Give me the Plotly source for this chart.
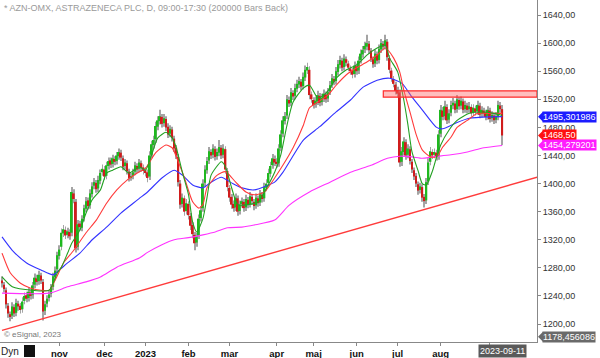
import plotly.graph_objects as go

# ---------------- data ----------------
title_text = "* AZN-OMX, ASTRAZENECA PLC, D, 09:00-17:30 (200000 Bars Back)"

opens = [
    1262, 1256, 1248, 1226, 1214, 1212, 1224, 1216, 1229, 1226,
    1221, 1233, 1241, 1237, 1245, 1241, 1256, 1265, 1261, 1269,
    1260, 1219, 1229, 1237, 1243, 1253, 1267, 1278, 1297, 1310,
    1329, 1334, 1327, 1331, 1330, 1386, 1374, 1310, 1343, 1337,
    1351, 1364, 1376, 1369, 1385, 1397, 1401, 1393, 1404, 1416,
    1420, 1411, 1425, 1433, 1428, 1435, 1432, 1439, 1444, 1436,
    1425, 1429, 1417, 1409, 1411, 1417, 1425, 1421, 1429, 1423,
    1419, 1416, 1410, 1441, 1455, 1463, 1481, 1489, 1495, 1486,
    1492, 1481, 1471, 1477, 1464, 1451, 1438, 1400, 1371, 1379,
    1361, 1371, 1354, 1341, 1327, 1316, 1326, 1351, 1365, 1401,
    1419, 1433, 1445, 1441, 1449, 1439, 1444, 1451, 1441, 1449,
    1418, 1394, 1381, 1371, 1366, 1379, 1361, 1371, 1374, 1366,
    1377, 1371, 1381, 1374, 1369, 1379, 1373, 1384, 1379, 1394,
    1401, 1414, 1426, 1435, 1431, 1429, 1451, 1471, 1489, 1497,
    1519, 1515, 1529, 1525, 1535, 1541, 1545, 1539, 1551, 1561,
    1562, 1527, 1519, 1513, 1517, 1525, 1516, 1521, 1527, 1521,
    1531, 1541, 1549, 1546, 1559, 1569, 1575, 1566, 1577, 1571,
    1564, 1561, 1556, 1567, 1561, 1576, 1584, 1591, 1595, 1599,
    1589, 1577, 1571, 1584, 1576, 1591, 1599, 1596, 1602, 1579,
    1561, 1549, 1541, 1533, 1530, 1431, 1445, 1459, 1441, 1449,
    1431, 1419, 1411, 1399, 1391, 1395, 1381, 1376, 1403, 1431,
    1445, 1441, 1444, 1439, 1471, 1504, 1496, 1509, 1491, 1501,
    1511, 1514, 1506, 1519, 1511, 1517, 1506, 1511, 1506, 1509,
    1501, 1507, 1503, 1511, 1499, 1504, 1501, 1496, 1504, 1493,
    1497, 1491, 1495, 1511, 1506,
]
highs = [
    1268, 1260, 1252, 1230, 1218, 1231, 1228, 1236, 1233, 1230,
    1238, 1245, 1246, 1252, 1249, 1260, 1272, 1270, 1276, 1273,
    1264, 1233, 1241, 1247, 1257, 1273, 1282, 1303, 1312, 1336,
    1341, 1339, 1337, 1335, 1395, 1392, 1378, 1348, 1347, 1355,
    1370, 1381, 1380, 1392, 1402, 1408, 1405, 1411, 1420, 1427,
    1425, 1431, 1437, 1437, 1441, 1439, 1445, 1450, 1448, 1440,
    1435, 1433, 1421, 1415, 1421, 1431, 1429, 1435, 1433, 1427,
    1423, 1420, 1446, 1461, 1468, 1488, 1496, 1505, 1499, 1499,
    1496, 1486, 1483, 1481, 1468, 1455, 1442, 1405, 1386, 1383,
    1378, 1375, 1358, 1345, 1331, 1330, 1356, 1368, 1406, 1426,
    1438, 1452, 1449, 1456, 1453, 1450, 1462, 1455, 1456, 1453,
    1422, 1398, 1385, 1376, 1386, 1383, 1376, 1380, 1378, 1384,
    1381, 1388, 1385, 1378, 1386, 1383, 1391, 1388, 1401, 1406,
    1421, 1431, 1442, 1440, 1436, 1456, 1476, 1496, 1502, 1526,
    1524, 1536, 1533, 1542, 1548, 1552, 1549, 1558, 1568, 1572,
    1567, 1531, 1523, 1524, 1532, 1529, 1528, 1534, 1531, 1536,
    1546, 1556, 1553, 1566, 1576, 1582, 1579, 1584, 1581, 1575,
    1568, 1565, 1574, 1571, 1581, 1591, 1596, 1602, 1612, 1603,
    1593, 1581, 1591, 1588, 1598, 1606, 1603, 1612, 1606, 1583,
    1565, 1553, 1545, 1538, 1534, 1452, 1466, 1463, 1456, 1453,
    1435, 1423, 1415, 1403, 1401, 1399, 1385, 1408, 1436, 1452,
    1449, 1450, 1448, 1476, 1512, 1509, 1518, 1513, 1506, 1518,
    1522, 1518, 1526, 1523, 1524, 1521, 1518, 1515, 1516, 1513,
    1513, 1511, 1518, 1515, 1510, 1508, 1505, 1510, 1508, 1503,
    1501, 1502, 1518, 1516, 1512,
]
lows = [
    1252, 1245, 1222, 1209, 1204, 1207, 1210, 1211, 1219, 1215,
    1216, 1228, 1231, 1232, 1235, 1236, 1251, 1255, 1256, 1257,
    1205, 1213, 1224, 1232, 1238, 1248, 1262, 1273, 1292, 1305,
    1324, 1321, 1322, 1320, 1325, 1372, 1302, 1305, 1333, 1332,
    1346, 1359, 1363, 1364, 1380, 1392, 1387, 1388, 1399, 1411,
    1405, 1406, 1420, 1422, 1423, 1426, 1427, 1434, 1432, 1419,
    1420, 1413, 1403, 1404, 1406, 1412, 1415, 1416, 1417, 1413,
    1410, 1402, 1405, 1436, 1450, 1458, 1476, 1484, 1480, 1481,
    1475, 1465, 1466, 1460, 1445, 1435, 1396, 1364, 1366, 1354,
    1356, 1349, 1334, 1322, 1305, 1310, 1321, 1346, 1360, 1396,
    1414, 1428, 1435, 1436, 1433, 1434, 1439, 1435, 1436, 1414,
    1389, 1374, 1364, 1360, 1361, 1354, 1356, 1366, 1360, 1361,
    1365, 1366, 1370, 1362, 1364, 1367, 1368, 1373, 1374, 1389,
    1396, 1409, 1421, 1425, 1423, 1424, 1446, 1466, 1484, 1492,
    1509, 1510, 1519, 1520, 1530, 1536, 1533, 1534, 1546, 1556,
    1520, 1515, 1507, 1508, 1512, 1510, 1511, 1516, 1515, 1516,
    1526, 1536, 1540, 1541, 1554, 1564, 1560, 1561, 1567, 1560,
    1555, 1550, 1551, 1555, 1556, 1571, 1579, 1586, 1590, 1585,
    1573, 1565, 1566, 1570, 1571, 1586, 1590, 1591, 1575, 1557,
    1545, 1537, 1527, 1523, 1424, 1425, 1440, 1434, 1436, 1427,
    1415, 1405, 1395, 1384, 1386, 1374, 1366, 1371, 1398, 1426,
    1435, 1436, 1433, 1434, 1466, 1490, 1491, 1485, 1486, 1496,
    1506, 1500, 1501, 1505, 1506, 1500, 1501, 1500, 1501, 1495,
    1496, 1497, 1498, 1493, 1494, 1495, 1490, 1491, 1487, 1488,
    1485, 1486, 1490, 1501, 1455,
]
closes = [
    1258, 1250, 1228, 1215, 1210, 1225, 1215, 1230, 1225, 1220,
    1232, 1240, 1236, 1246, 1240, 1255, 1266, 1260, 1270, 1262,
    1218, 1228, 1236, 1242, 1252, 1268, 1276, 1298, 1306, 1330,
    1335, 1326, 1332, 1325, 1388, 1378, 1308, 1342, 1338, 1350,
    1365, 1375, 1368, 1386, 1396, 1402, 1392, 1405, 1415, 1421,
    1410, 1426, 1432, 1427, 1436, 1431, 1440, 1445, 1437, 1424,
    1430, 1418, 1408, 1410, 1416, 1426, 1420, 1430, 1422, 1418,
    1415, 1408, 1440, 1456, 1462, 1482, 1490, 1496, 1485, 1493,
    1480, 1470, 1478, 1465, 1450, 1440, 1402, 1370, 1380, 1360,
    1372, 1355, 1340, 1328, 1315, 1325, 1350, 1362, 1400, 1420,
    1432, 1446, 1440, 1450, 1438, 1445, 1452, 1440, 1450, 1420,
    1395, 1380, 1370, 1365, 1380, 1360, 1370, 1375, 1365, 1378,
    1370, 1382, 1375, 1368, 1380, 1372, 1385, 1378, 1395, 1400,
    1415, 1425, 1436, 1430, 1428, 1450, 1470, 1490, 1496, 1520,
    1514, 1530, 1524, 1536, 1542, 1546, 1538, 1552, 1562, 1566,
    1526, 1520, 1512, 1518, 1526, 1515, 1522, 1528, 1520, 1530,
    1540, 1550, 1545, 1560, 1570, 1576, 1565, 1578, 1572, 1565,
    1560, 1555, 1568, 1560, 1575, 1585, 1590, 1596, 1600, 1590,
    1578, 1570, 1585, 1575, 1592, 1600, 1595, 1604, 1580, 1562,
    1550, 1542, 1532, 1528, 1430, 1446, 1460, 1440, 1450, 1432,
    1420, 1410, 1400, 1390, 1396, 1380, 1375, 1402, 1430, 1446,
    1440, 1445, 1438, 1470, 1505, 1495, 1510, 1490, 1500, 1512,
    1515, 1505, 1520, 1510, 1518, 1505, 1512, 1505, 1510, 1500,
    1508, 1502, 1512, 1498, 1505, 1500, 1495, 1505, 1492, 1498,
    1490, 1496, 1512, 1506, 1468.5,
]
bar_idx = list(range(len(closes)))

month_tick_idx = [28, 50, 70, 91, 111, 134, 152, 173, 193, 214, 238]
month_tick_text = ["nov", "dec", "2023", "feb", "mar", "apr", "maj", "jun", "jul", "aug", ""]
last_date_idx = 244
last_date_label = "2023-09-11"

price_ticks = [1200, 1240, 1280, 1320, 1360, 1400, 1440, 1480, 1520, 1560, 1600, 1640]

ma_fast_idx = [0, 5, 15, 23, 27, 29, 32, 34, 38, 41, 44, 48, 51, 54, 58, 62, 67, 70, 73, 76,
               80, 83, 85, 88, 91, 93, 95, 98, 100, 102, 107, 109, 112, 115, 120, 125, 128, 133, 136, 139,
               142, 147, 150, 154, 157, 160, 163, 168, 173, 178, 183, 187, 189, 193, 196, 198, 200, 203, 205, 207,
               210, 212, 214, 218, 222, 228, 234, 240, 244]
ma_fast = [1267, 1253, 1248, 1248, 1273, 1281, 1301, 1315, 1334, 1358, 1377, 1391, 1415, 1419, 1424, 1415, 1424, 1419, 1441, 1465,
           1473, 1465, 1451, 1416, 1384, 1345, 1331, 1350, 1380, 1412, 1431, 1424, 1394, 1370, 1370, 1374, 1388, 1416, 1441, 1483,
           1516, 1536, 1540, 1522, 1526, 1536, 1550, 1562, 1569, 1583, 1593, 1597, 1579, 1559, 1519, 1484, 1445, 1418, 1400, 1398,
           1418, 1438, 1455, 1476, 1490, 1500, 1502, 1500, 1497]

ma_mid_idx = [0, 4, 9, 14, 19, 23, 26, 30, 35, 41, 46, 51, 56, 61, 66, 70, 75, 80, 83, 86,
              89, 93, 96, 98, 100, 105, 109, 114, 119, 123, 128, 133, 137, 142, 147, 150, 154, 159, 163, 168,
              173, 178, 183, 187, 191, 194, 196, 199, 202, 205, 209, 212, 215, 219, 222, 227, 232, 237, 244]
ma_mid = [1301, 1273, 1258, 1251, 1248, 1248, 1263, 1287, 1305, 1330, 1348, 1372, 1391, 1405, 1415, 1422, 1444, 1455, 1451, 1431,
          1408, 1374, 1365, 1370, 1394, 1412, 1417, 1402, 1388, 1384, 1388, 1408, 1426, 1451, 1483, 1508, 1516, 1526, 1540, 1555,
          1565, 1573, 1583, 1593, 1579, 1559, 1533, 1502, 1470, 1448, 1438, 1438, 1452, 1466, 1480, 1490, 1500, 1500, 1500]

ma_slow_idx = [0, 5, 12, 19, 25, 28, 32, 38, 44, 51, 58, 64, 67, 71, 78, 84, 88, 93, 98, 102,
               107, 112, 117, 123, 130, 133, 137, 147, 155, 163, 170, 176, 183, 189, 195, 200, 205, 212, 215, 222,
               228, 238, 244]
ma_slow = [1324, 1305, 1287, 1277, 1270, 1277, 1287, 1301, 1320, 1338, 1358, 1372, 1379, 1388, 1408, 1419, 1412, 1398, 1394, 1402,
           1409, 1401, 1394, 1391, 1398, 1402, 1416, 1462, 1481, 1502, 1519, 1537, 1547, 1550, 1543, 1523, 1505, 1480, 1478, 1487,
           1493, 1495, 1495.3]

ma_200_idx = [0, 23, 32, 41, 48, 56, 67, 71, 78, 84, 91, 98, 104, 110, 117, 123, 133, 140, 150, 160,
              170, 180, 188, 194, 200, 205, 210, 219, 227, 235, 244]
ma_200 = [1244, 1244, 1253, 1260, 1267, 1281, 1294, 1302, 1313, 1320, 1323, 1327, 1331, 1337, 1338, 1341, 1348, 1369, 1388, 1402,
          1416, 1426, 1436, 1439, 1438, 1436, 1438, 1441, 1445, 1451, 1454.28]

trend_idx = [0, 261]
trend_price = [1191, 1409]

band_start_idx = 186
band_low, band_high = 1523, 1532

# right-hand price tags: text, vertical position (price units), colour
tag_texts = ["1495,301986", "1468,50", "1454,279201", "1178,456086"]
tag_pos = [1495.3, 1468.5, 1454.3, 1182.0]
tag_colors = ["#1c1cff", "#ff1010", "#ff1cff", "#6a6a6a"]

# ---------------- layout constants ----------------
W, H = 600, 358
ML, MR, MT, MB = 0, 63, 0, 16
PW, PH = W - ML - MR, H - MT - MB
X_RANGE = [-0.98, 260.98]
Y_RANGE = [1174.4, 1661.4]
UNITS_PER_PX = (Y_RANGE[1] - Y_RANGE[0]) / PH
FONT = "Liberation Sans, Arial, sans-serif"


def pxx(x):
    return x / PW


def pxy(y):
    return 1 - y / PH


wick_len = [h - l for h, l in zip(highs, lows)]
body_base = [min(o, c) for o, c in zip(opens, closes)]
body_len = [max(abs(c - o), 1.2) for o, c in zip(opens, closes)]
body_col = ["#1fb81f" if c >= o else "#d01c1c" for o, c in zip(opens, closes)]

fig = go.Figure()

# wicks (thin gray bars from low to high)
fig.add_trace(go.Bar(x=bar_idx, y=wick_len, base=lows, width=0.42,
                     marker=dict(color="#a4a4a4", line=dict(width=0)),
                     showlegend=False, hoverinfo="skip"))
# bodies
fig.add_trace(go.Bar(x=bar_idx, y=body_len, base=body_base, width=0.9,
                     marker=dict(color=body_col, line=dict(width=0)),
                     showlegend=False, hoverinfo="skip"))

for xs, ys, col in [
    (ma_200_idx, ma_200, "#ff33ff"),
    (ma_slow_idx, ma_slow, "#3333ff"),
    (ma_mid_idx, ma_mid, "#ff3a3a"),
    (ma_fast_idx, ma_fast, "#22a022"),
]:
    fig.add_trace(go.Scatter(x=xs, y=ys, mode="lines", showlegend=False, hoverinfo="skip",
                             line=dict(color=col, width=1.1, shape="spline", smoothing=0.6)))

fig.add_trace(go.Scatter(x=trend_idx, y=trend_price, mode="lines", showlegend=False, hoverinfo="skip",
                         line=dict(color="#ff3b3b", width=1.4)))

shapes = [
    dict(type="rect", xref="x", yref="y", x0=band_start_idx, x1=X_RANGE[1], y0=band_low, y1=band_high,
         fillcolor="rgba(255,110,110,0.45)", line=dict(color="#ff2a2a", width=1.2), layer="above"),
    # lock icon
    dict(type="rect", xref="paper", yref="paper", x0=pxx(24), x1=pxx(35), y0=pxy(357), y1=pxy(345),
         fillcolor="#111111", line=dict(width=0)),
]

annotations = [
    dict(xref="paper", yref="paper", x=pxx(2), y=pxy(8), xanchor="left", yanchor="middle",
         text=title_text, showarrow=False, font=dict(family=FONT, size=9, color="#9a9a9a")),
    dict(xref="paper", yref="paper", x=pxx(2), y=pxy(334), xanchor="left", yanchor="middle",
         text="© eSignal, 2023", showarrow=False, font=dict(family=FONT, size=8, color="#777777")),
    dict(xref="paper", yref="paper", x=pxx(-1), y=pxy(351), xanchor="left", yanchor="middle",
         text="Dyn", showarrow=False, font=dict(family=FONT, size=10, color="#222222")),
    dict(xref="x", yref="paper", x=last_date_idx, y=pxy(351), xanchor="center", yanchor="middle",
         text=last_date_label, showarrow=False, bgcolor="#5a5a5a", borderpad=1,
         font=dict(family=FONT, size=9, color="#ffffff")),
]

for txt, pos, col in zip(tag_texts, tag_pos, tag_colors):
    annotations.append(dict(xref="paper", yref="y", x=pxx(PW + 5), y=pos, xanchor="left", yanchor="middle",
                            text=txt, showarrow=False, bgcolor=col, borderpad=0,
                            font=dict(family=FONT, size=9, color="#ffffff")))
    dy = 5 * UNITS_PER_PX
    shapes.append(dict(type="path", xref="paper", yref="y",
                       path=f"M {pxx(PW + 1)} {pos} L {pxx(PW + 6)} {pos + dy} L {pxx(PW + 6)} {pos - dy} Z",
                       fillcolor=col, line=dict(width=0)))

fig.update_layout(
    width=W, height=H, margin=dict(l=ML, r=MR, t=MT, b=MB),
    paper_bgcolor="white", plot_bgcolor="white", barmode="overlay",
    shapes=shapes, annotations=annotations, showlegend=False,
    xaxis=dict(range=X_RANGE, tickvals=month_tick_idx,
               ticktext=[f"<b>{t}</b>" for t in month_tick_text],
               ticks="outside", ticklen=3, tickcolor="#888888", showline=True, linecolor="#888888",
               showgrid=False, zeroline=False,
               tickfont=dict(family=FONT, size=9.5, color="#111111")),
    yaxis=dict(range=Y_RANGE, side="right", tickvals=price_ticks,
               ticktext=[f"{v:.2f}".replace(".", ",") for v in price_ticks],
               ticks="outside", ticklen=3, tickcolor="#888888", showline=True, linecolor="#888888",
               showgrid=False, zeroline=False,
               tickfont=dict(family=FONT, size=9, color="#333333")),
)

fig.write_html("out.html", config={"displayModeBar": False},
               post_script="document.body.style.margin='0';document.body.style.overflow='hidden';")
